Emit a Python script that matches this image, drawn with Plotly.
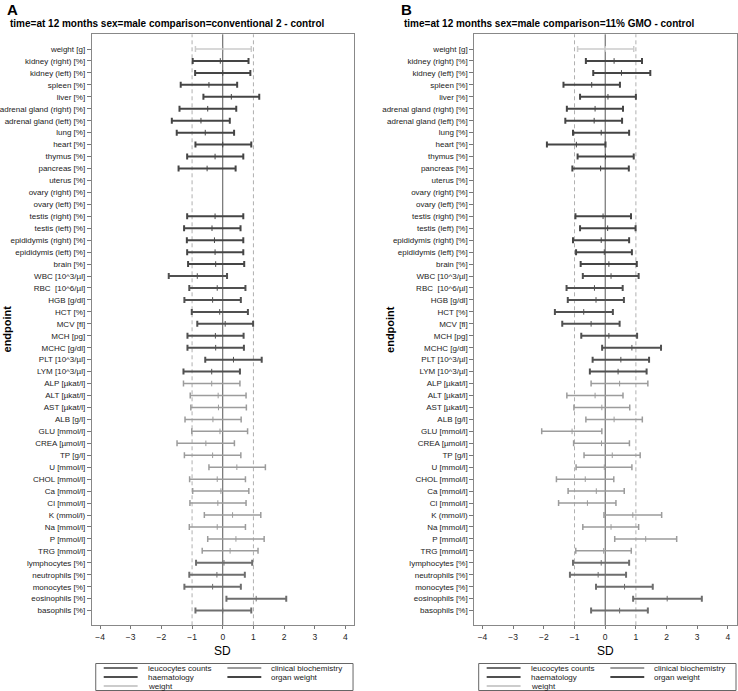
import plotly.graph_objects as go

OFF = 0  # page body margin is removed by post_script below
W, H = 738 - OFF, 691 - OFF

endpoints = [
    "weight [g]", "kidney (right) [%]", "kidney (left) [%]", "spleen [%]", "liver [%]",
    "adrenal gland (right) [%]", "adrenal gland (left) [%]", "lung [%]", "heart [%]",
    "thymus [%]", "pancreas [%]", "uterus [%]", "ovary (right) [%]", "ovary (left) [%]",
    "testis (right) [%]", "testis (left) [%]", "epididymis (right) [%]", "epididymis (left) [%]",
    "brain [%]", "WBC [10^3/µl]", "RBC  [10^6/µl]", "HGB [g/dl]", "HCT [%]", "MCV [fl]",
    "MCH [pg]", "MCHC [g/dl]", "PLT [10^3/µl]", "LYM [10^3/µl]", "ALP [µkat/l]",
    "ALT [µkat/l]", "AST [µkat/l]", "ALB [g/l]", "GLU [mmol/l]", "CREA [µmol/l]",
    "TP [g/l]", "U [mmol/l]", "CHOL [mmol/l]", "Ca [mmol/l]", "Cl [mmol/l]", "K (mmol/l)",
    "Na [mmol/l]", "P [mmol/l]", "TRG [mmol/l]", "lymphocytes [%]", "neutrophils [%]",
    "monocytes [%]", "eosinophils [%]", "basophils [%]",
]

groups = (["weight"] + ["organ weight"] * 18 + ["haematology"] * 9 +
          ["clinical biochemistry"] * 15 + ["leucocytes counts"] * 5)

N = None
# Panel A: conventional 2 - control
a_lo = [-0.89, -0.98, -0.90, -1.37, -0.63, -1.41, -1.66, -1.50, -0.89, -1.16, -1.44, N, N, N,
        -1.16, -1.26, -1.17, -1.16, -1.13, -1.76, -1.09, -1.25, -1.01, -0.83, -1.15, -1.15,
        -0.57, -1.28, -1.28, -1.06, -1.04, -1.23, -1.01, -1.49, -1.25, -0.45, -1.08, -0.98,
        -1.07, -0.60, -1.09, -0.49, -0.67, -0.87, -1.09, -1.25, 0.12, -0.89]
a_est = [0.02, -0.08, 0.00, -0.45, 0.28, -0.49, -0.71, -0.57, 0.00, -0.25, -0.51, N, N, N,
         -0.25, -0.35, -0.27, -0.25, -0.23, -0.83, -0.18, -0.33, -0.10, 0.08, -0.24, -0.23,
         0.35, -0.36, -0.36, -0.15, -0.14, -0.32, -0.09, -0.55, -0.33, 0.46, -0.18, -0.06,
         -0.16, 0.32, -0.18, 0.43, 0.24, 0.04, -0.19, -0.33, 1.09, 0.00]
a_hi = [0.93, 0.84, 0.90, 0.47, 1.19, 0.44, 0.23, 0.37, 0.93, 0.67, 0.42, N, N, N,
        0.67, 0.58, 0.67, 0.67, 0.70, 0.14, 0.74, 0.59, 0.82, 0.99, 0.68, 0.69,
        1.27, 0.56, 0.56, 0.76, 0.77, 0.60, 0.81, 0.38, 0.59, 1.39, 0.74, 0.85,
        0.76, 1.24, 0.74, 1.35, 1.15, 0.96, 0.72, 0.59, 2.07, 0.93]

# Panel B: 11% GMO - control
b_lo = [-0.90, -0.63, -0.39, -1.36, -0.82, -1.25, -1.30, -1.05, -1.90, -0.90, -1.07, N, N, N,
        -0.97, -0.82, -1.05, -0.95, -0.80, -0.73, -1.26, -1.22, -1.64, -1.40, -0.78, -0.10,
        -0.41, -0.50, -0.46, -1.25, -1.02, -0.63, -2.07, -1.03, -0.69, -0.95, -1.59, -1.21,
        -1.52, -0.04, -0.73, 0.31, -0.96, -1.05, -1.15, -0.30, 0.91, -0.46]
b_est = [0.01, 0.29, 0.53, -0.44, 0.09, -0.33, -0.36, -0.13, -0.94, 0.01, -0.15, N, N, N,
         -0.07, 0.08, -0.13, -0.03, 0.12, 0.19, -0.35, -0.30, -0.70, -0.46, 0.12, 0.87,
         0.51, 0.42, 0.47, -0.33, -0.11, 0.29, -1.08, -0.12, 0.23, -0.03, -0.65, -0.29,
         -0.58, 0.90, 0.19, 1.32, -0.05, -0.13, -0.23, 0.63, 2.02, 0.47]
b_hi = [0.93, 1.20, 1.47, 0.48, 1.00, 0.58, 0.55, 0.78, 0.01, 0.93, 0.77, N, N, N,
        0.84, 0.99, 0.78, 0.87, 1.03, 1.09, 0.57, 0.61, 0.25, 0.47, 1.04, 1.82,
        1.43, 1.35, 1.39, 0.58, 0.80, 1.21, -0.11, 0.79, 1.14, 0.87, 0.28, 0.62,
        0.35, 1.84, 1.09, 2.33, 0.85, 0.78, 0.68, 1.55, 3.15, 1.39]

panel_letters = ["A", "B"]
panel_titles = ["time=at 12 months sex=male comparison=conventional 2 - control",
                "time=at 12 months sex=male comparison=11% GMO - control"]
x_ticks = [-4, -3, -2, -1, 0, 1, 2, 3, 4]

legend_order = ["leucocytes counts", "clinical biochemistry", "haematology",
                "organ weight", "weight"]
group_color = {
    "organ weight": "#454545",
    "haematology": "#505050",
    "leucocytes counts": "#6e6e6e",
    "clinical biochemistry": "#9c9c9c",
    "weight": "#cccccc",
}
group_width = {
    "organ weight": 2, "haematology": 2, "leucocytes counts": 2,
    "clinical biochemistry": 1.5, "weight": 1.5,
}

FONT = "Liberation Sans, Arial, sans-serif"


def px(xp):
    return (xp - OFF) / W


def py(yp):
    return 1 - (yp - OFF) / H


# layout geometry (page pixels)
x_dom_px = [(91, 354), (474.5, 737.5)]
y_top_px, y_bot_px = 34.3, 625.3

fig = go.Figure()
panels = [(a_lo, a_est, a_hi), (b_lo, b_est, b_hi)]
annotations = []
shapes = []

for p, (lo, est, hi) in enumerate(panels):
    xa = "x" if p == 0 else "x2"
    ya = "y" if p == 0 else "y2"
    for g in legend_order:
        idx = [i for i in range(len(endpoints)) if groups[i] == g and est[i] is not None]
        fig.add_trace(go.Scatter(
            x=[est[i] for i in idx],
            y=[endpoints[i] for i in idx],
            mode="markers",
            xaxis=xa, yaxis=ya,
            marker=dict(symbol="line-ns", size=4, color=group_color[g],
                        line=dict(width=1, color=group_color[g])),
            error_x=dict(type="data", symmetric=False,
                         array=[hi[i] - est[i] for i in idx],
                         arrayminus=[est[i] - lo[i] for i in idx],
                         color=group_color[g], thickness=group_width[g], width=3),
            showlegend=False, hoverinfo="skip",
        ))
    # reference lines
    shapes.append(dict(type="line", xref=xa, yref=ya + " domain", x0=0, x1=0, y0=0, y1=1,
                       line=dict(color="#555555", width=1), layer="below"))
    for v in (-1, 1):
        shapes.append(dict(type="line", xref=xa, yref=ya + " domain", x0=v, x1=v, y0=0, y1=1,
                           line=dict(color="#b0b0b0", width=1, dash="4px,3px"), layer="below"))

    x0px, x1px = x_dom_px[p]
    annotations.append(dict(text="<b>%s</b>" % panel_letters[p], xref="paper", yref="paper",
                            x=px(5 if p == 0 else 400), y=py(9.5), xanchor="left",
                            yanchor="middle", showarrow=False, borderpad=0,
                            font=dict(family=FONT, size=15, color="black")))
    annotations.append(dict(text="<b>%s</b>" % panel_titles[p], xref="paper", yref="paper",
                            x=px(166 if p == 0 else 549.5), y=py(23), xanchor="center",
                            yanchor="middle", showarrow=False, borderpad=0,
                            font=dict(family=FONT, size=10, color="black")))
    annotations.append(dict(text="<b>endpoint</b>", xref="paper", yref="paper",
                            x=px(6.5 if p == 0 else 390), y=py(329), textangle=-90,
                            xanchor="center", yanchor="middle", showarrow=False,
                            font=dict(family=FONT, size=11, color="black")))
    annotations.append(dict(text="SD", xref="paper", yref="paper",
                            x=px((x0px + x1px) / 2), y=py(651),
                            xanchor="center", yanchor="middle", showarrow=False,
                            font=dict(family=FONT, size=12, color="black")))

    # legend box
    bx0 = (95 if p == 0 else 479)
    bx1 = bx0 + 258
    shapes.append(dict(type="rect", xref="paper", yref="paper", x0=px(bx0), x1=px(bx1),
                       y0=py(690.5), y1=py(663.5), line=dict(color="#666666", width=1),
                       fillcolor="white"))
    for k, g in enumerate(legend_order):
        col, row = k % 2, k // 2
        ly = 668 + 9 * row
        lx0 = bx0 + (8 if col == 0 else 132)
        shapes.append(dict(type="line", xref="paper", yref="paper", x0=px(lx0),
                           x1=px(lx0 + 34), y0=py(ly), y1=py(ly),
                           line=dict(color=group_color[g], width=2)))
        annotations.append(dict(text=g, xref="paper", yref="paper", x=px(lx0 + 43),
                                y=py(ly), xanchor="left", yanchor="middle",
                                showarrow=False, borderpad=0,
                                font=dict(family=FONT, size=8, color="#222222")))

axis_common_x = dict(range=[-4.27, 4.28], tickvals=x_ticks, ticks="outside", ticklen=3,
                     tickcolor="#777777", showgrid=False, zeroline=False, showline=True,
                     linecolor="#888888", linewidth=1, mirror=True,
                     tickfont=dict(family=FONT, size=8.5, color="#222222"))
axis_common_y = dict(type="category", categoryorder="array", categoryarray=endpoints,
                     tickvals=endpoints, range=[47 + 1.23, -1.23], ticks="outside", ticklen=4,
                     tickcolor="#777777", showgrid=False, zeroline=False, showline=True,
                     linecolor="#888888", linewidth=1, mirror=True,
                     tickfont=dict(family=FONT, size=8, color="#222222"))

ydom = [py(y_bot_px), py(y_top_px)]
fig.update_layout(
    width=W, height=H,
    margin=dict(l=0, r=0, t=0, b=0),
    paper_bgcolor="white", plot_bgcolor="white",
    xaxis=dict(domain=[px(x_dom_px[0][0]), px(x_dom_px[0][1])], anchor="y", **axis_common_x),
    yaxis=dict(domain=ydom, anchor="x", **axis_common_y),
    xaxis2=dict(domain=[px(x_dom_px[1][0]), min(1.0, px(x_dom_px[1][1]))], anchor="y2",
                **axis_common_x),
    yaxis2=dict(domain=ydom, anchor="x2", **axis_common_y),
    shapes=shapes, annotations=annotations, showlegend=False,
    hovermode=False,
)

fig.write_html("out.html",
               config={"displayModeBar": False},
               post_script="document.body.style.margin='0';document.body.style.padding='0';")
